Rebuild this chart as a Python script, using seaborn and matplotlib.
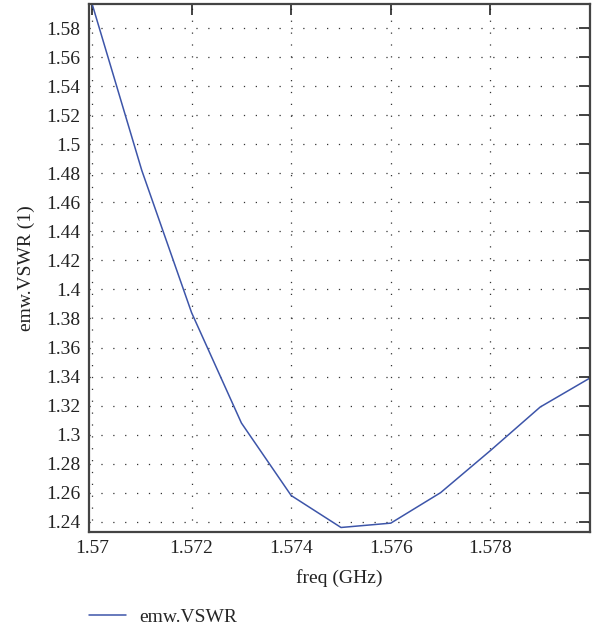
import matplotlib
matplotlib.use("Agg")
import matplotlib.pyplot as plt
import seaborn as sns
import pandas as pd
import numpy as np

freq = [1.570, 1.571, 1.572, 1.573, 1.574, 1.575, 1.576, 1.577, 1.578, 1.579, 1.580]
vswr = [1.597, 1.482, 1.384, 1.308, 1.258, 1.236, 1.239, 1.260, 1.289, 1.319, 1.339]
xticks = [1.570, 1.572, 1.574, 1.576, 1.578]
xticklabels = ["1.57", "1.572", "1.574", "1.576", "1.578"]
yticks = [1.24, 1.26, 1.28, 1.30, 1.32, 1.34, 1.36, 1.38, 1.40, 1.42, 1.44, 1.46,
          1.48, 1.50, 1.52, 1.54, 1.56, 1.58]
yticklabels = ["1.24", "1.26", "1.28", "1.3", "1.32", "1.34", "1.36", "1.38", "1.4",
               "1.42", "1.44", "1.46", "1.48", "1.5", "1.52", "1.54", "1.56", "1.58"]

sns.set_style("white")
plt.rcParams['font.family'] = ['Liberation Serif', 'DejaVu Serif']

df = pd.DataFrame({"freq (GHz)": freq, "emw.VSWR": vswr})

fig = plt.figure(figsize=(5.95, 6.29), dpi=100)
ax = fig.add_axes([0.1496, 0.1547, 0.9916 - 0.1496, 0.9932 - 0.1547])
sns.lineplot(data=df, x="freq (GHz)", y="emw.VSWR", ax=ax, color="#3d55a9",
             linewidth=1.1, label="emw.VSWR", legend=False)

fs = 14
ax.set_xlim(1.56994, 1.58)
ax.set_ylim(1.2331, 1.5965)
ax.set_xticks(xticks)
ax.set_xticklabels(xticklabels)
ax.set_yticks(yticks)
ax.set_yticklabels(yticklabels)
ax.tick_params(direction='in', length=8, width=1.2, top=True, right=True,
               labelsize=fs, colors='#222222', pad=6)
ax.grid(True, linestyle=(0, (1, 8.5)), color='#333333', linewidth=0.9)
for s in ax.spines.values():
    s.set_color('#444444')
    s.set_linewidth(1.6)

ax.set_xlabel("freq (GHz)", fontsize=fs, color='#222222', labelpad=9)
ax.set_ylabel("emw.VSWR (1)", fontsize=fs, color='#222222', labelpad=8)

h, l = ax.get_legend_handles_labels()
fig.legend(h, l, loc='center left', bbox_to_anchor=(0.12, 1 - 617 / 629),
           frameon=False, fontsize=fs, handlelength=1.9, handletextpad=0.7)

fig.savefig("out.png", dpi=100)
